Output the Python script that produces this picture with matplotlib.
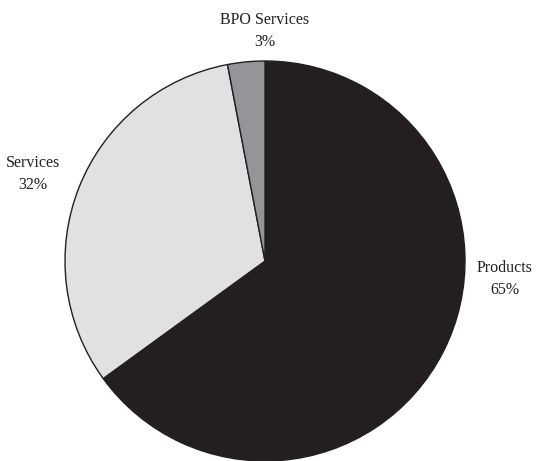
import matplotlib.pyplot as plt

segments = ['Products', 'Services', 'BPO Services']
shares = [65, 32, 3]
colors = ['#231f20', '#e1e1e3', '#939598']
label_xy = [(505, 182), (33, 287), (265, 430)]

plt.rcParams['font.family'] = ['Liberation Serif', 'DejaVu Serif']

fig = plt.figure(figsize=(5.4, 4.61), dpi=100)
ax = fig.add_axes([0, 0, 1, 1])
ax.set_xlim(0, 540)
ax.set_ylim(0, 461)
ax.set_aspect('equal')
ax.axis('off')

ax.pie(shares, colors=colors, startangle=90, counterclock=False,
       center=(265, 200), radius=200,
       wedgeprops=dict(edgecolor='#231f20', linewidth=1.0))

for name, val, (x, y) in zip(segments, shares, label_xy):
    ax.text(x, y, f'{name}\n{val}%', ha='center', va='center',
            fontsize=11.5, color='#231f20', linespacing=1.45)

ax.set_xlim(0, 540)
ax.set_ylim(0, 461)
fig.savefig('out.png', dpi=100)
